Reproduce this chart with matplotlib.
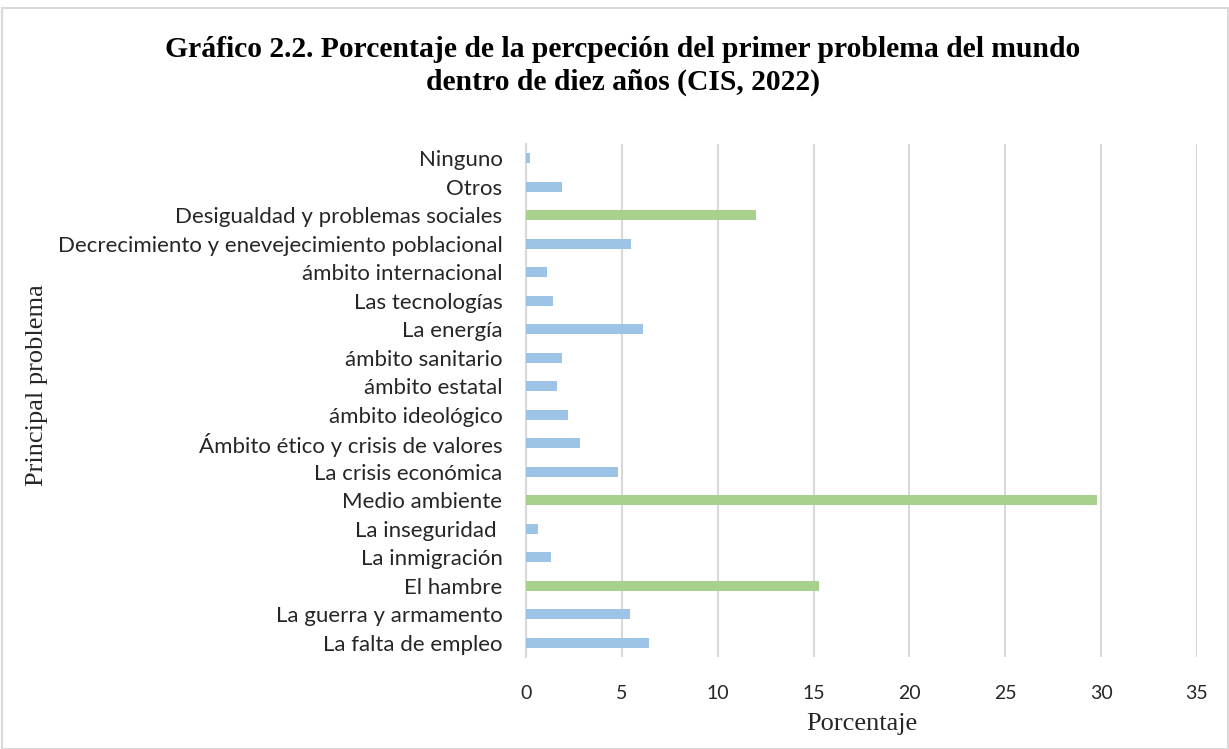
import matplotlib
matplotlib.use("Agg")
import matplotlib.pyplot as plt
from matplotlib.patches import Rectangle

categories = [
    "La falta de empleo", "La guerra y armamento", "El hambre", "La inmigración",
    "La inseguridad ", "Medio ambiente", "La crisis económica",
    "Ámbito ético y crisis de valores", "ámbito ideológico", "ámbito estatal",
    "ámbito sanitario", "La energía", "Las tecnologías", "ámbito internacional",
    "Decrecimiento y enevejecimiento poblacional", "Desigualdad y problemas sociales",
    "Otros", "Ninguno",
]
values = [6.4, 5.4, 15.3, 1.3, 0.6, 29.8, 4.8, 2.8, 2.2, 1.6, 1.9, 6.1, 1.4, 1.1,
          5.5, 12.0, 1.9, 0.2]
highlight = ["El hambre", "Medio ambiente", "Desigualdad y problemas sociales"]
xticks = [0, 5, 10, 15, 20, 25, 30, 35]

blue = "#9DC3E6"
green = "#A9D18E"
colors = [green if c in highlight else blue for c in categories]

W, H = 1229, 749
fig = plt.figure(figsize=(W / 100, H / 100), dpi=100)
ax = fig.add_axes([526 / W, 1 - 657 / H, (1197 - 526) / W, (657 - 144) / H])

ax.barh(range(len(categories)), values, height=0.36, color=colors, zorder=3)
ax.set_xlim(0, 35)
ax.set_ylim(-0.5, len(categories) - 0.5)
ax.set_xticks(xticks)
ax.set_yticks(range(len(categories)))
ax.set_yticklabels(categories, fontfamily="Lato", fontsize=16, color="#262626")
ax.tick_params(axis="x", labelsize=14, length=0, pad=20, colors="#262626")
for t in ax.get_xticklabels():
    t.set_fontfamily("Lato")
ax.tick_params(axis="y", length=0, pad=17)
ax.grid(axis="x", color="#d9d9d9", linewidth=1.5, zorder=0)
for s in ["top", "right", "bottom"]:
    ax.spines[s].set_visible(False)
ax.spines["left"].set_color("#d9d9d9")
ax.spines["left"].set_linewidth(1.5)

ax.set_xlabel("Porcentaje", fontfamily="Liberation Serif", fontsize=19, labelpad=8, color="#262626")
fig.text(37 / W, 1 - 385 / H, "Principal problema", rotation=90, ha="center", va="center",
         fontfamily="Liberation Serif", fontsize=19, color="#262626")
fig.text(623 / W, 1 - 66 / H,
         "Gráfico 2.2. Porcentaje de la percpeción del primer problema del mundo\ndentro de diez años (CIS, 2022)",
         ha="center", va="center", fontfamily="Liberation Serif", fontweight="bold",
         fontsize=21.3, linespacing=1.3)

fig.patches.append(Rectangle((2 / W, 0), 1 - 3 / W, 1 - 8 / H, transform=fig.transFigure,
                             fill=False, edgecolor="#d9d9d9", linewidth=1.5))

fig.savefig("out.png", dpi=100)
